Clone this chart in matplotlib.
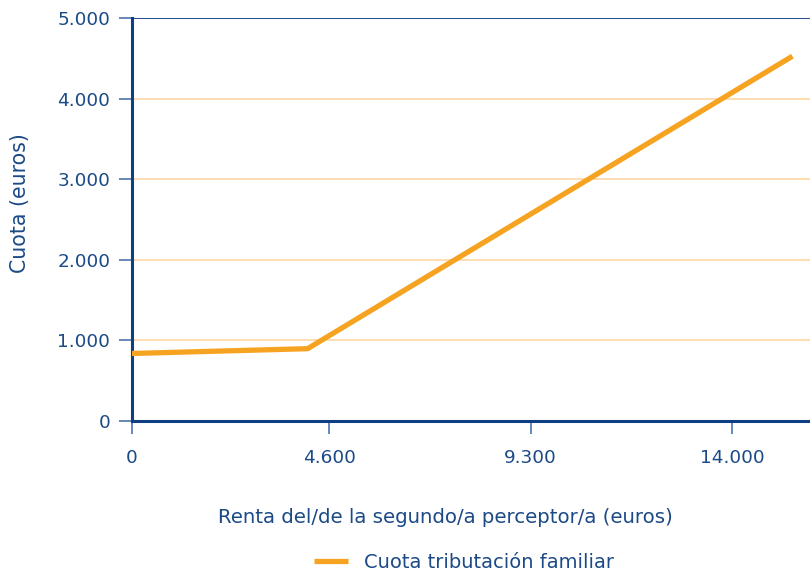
import matplotlib
matplotlib.use('Agg')
import matplotlib.pyplot as plt

# data
renta = [0, 4100, 15400]          # euros, second earner
cuota = [835, 895, 4530]           # euros
xticks = [0, 4600, 9300, 14000]
xtick_labels = ['0', '4.600', '9.300', '14.000']
yticks = [0, 1000, 2000, 3000, 4000, 5000]
ytick_labels = ['0', '1.000', '2.000', '3.000', '4.000', '5.000']

navy = '#0d3f82'
text_col = '#1b4a86'
orange = '#f6a321'
grid_col = '#fdd59c'

plt.rcParams['font.family'] = ['DejaVu Sans']

fig = plt.figure(figsize=(8.1, 5.74), dpi=100)
ax = fig.add_axes([0.1626, 0.2671, 0.8374, 0.7009])

# light orange grid lines, navy line on top
for y in yticks[1:-1]:
    ax.axhline(y, color=grid_col, lw=1.1, zorder=1)
ax.axhline(yticks[-1], color=navy, lw=1.3, zorder=1)

line, = ax.plot(renta, cuota, color=orange, lw=3.8, solid_capstyle='butt',
                zorder=3, label='Cuota tributación familiar')

ax.set_xlim(0, 15810)
ax.set_ylim(0, 5000)
ax.set_xticks(xticks)
ax.set_xticklabels(xtick_labels)
ax.set_yticks(yticks)
ax.set_yticklabels(ytick_labels)

for side in ['top', 'right']:
    ax.spines[side].set_visible(False)
for side in ['left', 'bottom']:
    ax.spines[side].set_color(navy)
    ax.spines[side].set_linewidth(2.2)

ax.tick_params(axis='both', direction='out', length=9.5, width=1.3,
               color='#5a7fb3', labelcolor=text_col, labelsize=13.3)
ax.tick_params(axis='x', pad=11)
ax.tick_params(axis='y', pad=6)

ax.set_xlabel('Renta del/de la segundo/a perceptor/a (euros)',
              color=text_col, fontsize=14.2)
ax.xaxis.set_label_coords(0.463, -0.218)
ax.set_ylabel('Cuota (euros)', color=text_col, fontsize=14.8)
ax.yaxis.set_label_coords(-0.15, 0.54)

fig.legend(handles=[line], loc='center', bbox_to_anchor=(0.573, 0.02),
           frameon=False, fontsize=14, labelcolor=text_col,
           handlelength=1.75, handletextpad=0.8)

fig.savefig('out.png', dpi=100)
